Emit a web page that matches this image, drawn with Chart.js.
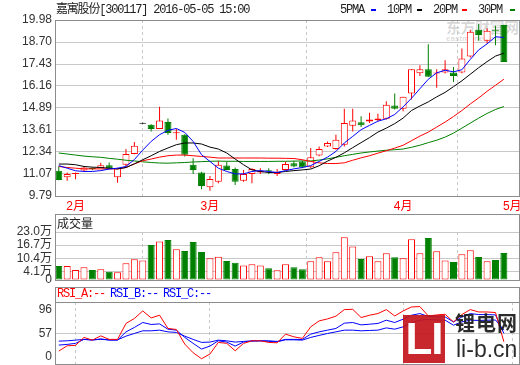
<!DOCTYPE html>
<html>
<head>
<meta charset="utf-8">
<script src="https://cdn.jsdelivr.net/npm/chart.js@4.4.1/dist/chart.umd.min.js"></script>
<style>
html,body{margin:0;padding:0;background:#fff;}
#wrap{position:relative;width:520px;height:365px;overflow:hidden;}
#wrap canvas{position:absolute;left:0;top:0;}
.txt{position:absolute;white-space:nowrap;font-family:"Liberation Mono","Noto Sans CJK SC",monospace;font-size:12px;line-height:12px;letter-spacing:-1.2px;color:#222;}
.dash{position:absolute;top:9px;width:5px;height:2px;}
#wm{position:absolute;left:446px;top:19px;color:rgba(0,0,0,0.16);font-family:"Noto Sans CJK SC",sans-serif;font-weight:bold;font-size:15px;line-height:16px;letter-spacing:-0.5px;white-space:nowrap;}
#wm small{display:block;font-family:"Liberation Sans",sans-serif;font-size:8px;line-height:8px;letter-spacing:0;font-weight:bold;}
#logo{position:absolute;left:403px;top:315px;width:42px;height:48px;background:#c4161c;opacity:0.92;color:#fff;font-family:"Liberation Sans",sans-serif;font-weight:bold;font-size:44px;line-height:48px;text-align:center;letter-spacing:-1px;}
#logoTxt{position:absolute;left:455px;top:311px;color:#1a1a1a;opacity:0.92;font-family:"Noto Sans CJK SC",sans-serif;font-weight:bold;font-size:20px;line-height:24px;letter-spacing:1px;white-space:nowrap;}
#logoUrl{position:absolute;left:456px;top:335px;color:#1a1a1a;opacity:0.92;font-family:"Liberation Sans",sans-serif;font-size:23px;line-height:28px;white-space:nowrap;}
</style>
</head>
<body>
<div id="wrap">
  <div id="wm">东方财富网<small>eastmoney.com</small></div>
  <canvas id="mainChart" width="520" height="365"></canvas>
  <canvas id="volChart" width="520" height="365"></canvas>
  <canvas id="rsiChart" width="520" height="365"></canvas>

  <div class="txt" style="left:56px;top:4px;">嘉寓股份[300117] 2016-05-05 15:00</div>
  <div class="txt" style="left:340px;top:4px;">5PMA</div><div class="dash" style="left:371px;background:#0000ff;"></div>
  <div class="txt" style="left:387px;top:4px;">10PM</div><div class="dash" style="left:417px;background:#000;"></div>
  <div class="txt" style="left:433px;top:4px;">20PM</div><div class="dash" style="left:462px;background:#ff0000;"></div>
  <div class="txt" style="left:478px;top:4px;">30PM</div><div class="dash" style="left:510px;background:#008000;"></div>

  <div class="txt" style="left:57px;top:217px;letter-spacing:0;font-family:'Noto Sans CJK SC',sans-serif;">成交量</div>

  <div class="txt" style="left:57px;top:288px;color:#ff0000;">RSI_A:--</div>
  <div class="txt" style="left:110px;top:288px;color:#0000ff;">RSI_B:--</div>
  <div class="txt" style="left:163px;top:288px;color:#0000ff;">RSI_C:--</div>

  <div id="logo">LI</div>
  <div id="logoTxt">锂电网</div>
  <div id="logoUrl">li-b.cn</div>
</div>

<script>
// daily bars, 2016-01-28 .. 2016-05-05
const opens  = [11.25,10.88,11.07,11.26,11.40,11.40,11.57,10.88,11.60,12.22,
                13.97,13.92,13.67,14.08,13.42,13.34,11.60,11.15,10.30,10.62,
                11.55,11.35,10.68,11.07,11.15,11.28,11.07,11.30,11.69,11.79,
                11.46,12.14,12.66,12.51,12.76,13.86,14.06,14.10,14.18,14.26,
                15.03,14.84,15.73,16.90,17.13,16.88,16.94,16.94,16.94,17.87,
                19.42,18.78,19.42,19.69];
const highs  = [11.51,11.15,11.15,11.50,11.45,11.71,11.73,11.42,12.51,12.92,
                13.97,13.95,14.96,14.27,13.67,13.36,11.98,11.20,10.95,11.83,
                11.79,11.44,11.30,11.40,11.40,11.40,11.35,11.79,11.83,11.83,
                12.57,12.66,12.95,13.34,14.84,14.84,14.41,14.61,14.55,15.28,
                15.73,15.54,17.13,17.36,18.58,17.13,17.65,17.26,18.33,19.42,
                19.75,19.50,19.65,19.71];
const lows   = [10.70,10.68,10.76,11.21,11.28,11.40,11.35,10.56,11.50,12.20,
                13.97,13.53,13.67,13.34,13.05,12.08,11.07,10.18,10.10,10.53,
                11.28,10.43,10.62,10.53,11.07,11.07,10.95,11.26,11.46,11.40,
                11.40,12.09,12.63,12.47,12.66,13.53,13.79,14.02,14.12,14.22,
                14.80,14.70,15.38,16.74,16.70,16.06,16.88,16.39,16.90,17.81,
                18.78,18.64,18.52,17.55];
const closes = [10.72,11.07,11.09,11.44,11.35,11.57,11.40,11.40,12.22,12.70,
                13.97,13.67,14.16,13.44,13.47,12.18,11.30,10.37,10.78,11.60,
                11.30,10.62,11.07,11.35,11.25,11.23,11.20,11.64,11.50,11.44,
                12.04,12.51,12.86,13.05,14.02,14.16,13.88,14.22,14.27,15.07,
                14.84,15.54,17.13,17.13,16.70,16.94,17.13,16.74,17.75,19.30,
                19.11,19.36,19.36,17.55];

const ma5  = [11.55,11.40,11.25,11.21,11.21,11.26,11.35,11.40,11.50,11.90,
              12.45,12.95,13.34,13.59,13.70,13.47,12.95,12.18,11.79,11.40,
              11.21,11.07,11.07,11.21,11.26,11.21,11.15,11.26,11.36,11.44,
              11.55,11.79,12.04,12.37,12.86,13.24,13.63,13.88,14.12,14.26,
              14.51,14.95,15.45,16.00,16.55,16.92,17.07,16.98,17.10,17.70,
              18.25,18.60,19.01,18.97];
const ma10 = [11.64,11.64,11.60,11.50,11.46,11.44,11.40,11.36,11.44,11.65,
              11.89,12.12,12.37,12.57,12.76,12.86,12.86,12.80,12.62,12.51,
              12.28,11.93,11.60,11.30,11.21,11.15,11.15,11.21,11.26,11.30,
              11.35,11.54,11.81,12.03,12.29,12.59,12.88,13.17,13.49,13.72,
              13.98,14.30,14.74,15.00,15.24,15.53,15.79,16.12,16.46,16.84,
              17.22,17.57,17.89,18.06];
const ma20 = [11.50,11.44,11.40,11.36,11.36,11.36,11.36,11.36,11.44,11.65,
              11.83,11.93,12.04,12.12,12.16,12.16,12.12,12.08,12.04,11.99,
              11.99,11.99,11.99,11.99,11.99,11.98,11.98,11.97,11.96,11.89,
              11.79,11.71,11.67,11.67,11.71,11.86,12.00,12.12,12.27,12.41,
              12.56,12.73,12.99,13.26,13.49,13.78,14.07,14.39,14.74,15.12,
              15.47,15.85,16.20,16.55];
const ma30 = [12.28,12.22,12.16,12.10,12.06,12.03,11.97,11.92,11.86,11.82,
              11.77,11.73,11.70,11.69,11.71,11.73,11.76,11.78,11.80,11.81,
              11.80,11.80,11.79,11.79,11.79,11.79,11.80,11.80,11.81,11.82,
              11.82,11.87,11.94,12.03,12.12,12.20,12.28,12.34,12.39,12.44,
              12.47,12.51,12.61,12.73,12.88,13.02,13.20,13.43,13.72,14.01,
              14.30,14.57,14.80,14.97];

// volume in 万 shares
const volumes = [6.7,6.7,4.8,6.1,4.8,5.1,4.0,3.7,8.0,9.9,
                 9.4,16.8,18.5,19.2,14.7,13.9,18.2,13.4,10.4,11.2,
                 9.1,8.3,7.0,7.5,7.0,5.6,4.7,7.5,6.1,5.1,
                 9.0,10.9,9.0,13.3,20.5,16.0,10.1,11.4,9.0,12.8,
                 10.9,10.4,19.5,12.8,20.1,13.8,9.4,8.6,12.3,14.2,
                 11.0,9.0,9.6,12.9];

const rsiA = [28.5,37.2,37.8,50.8,46.4,53.4,47.6,47.6,73.6,81.7,
              94.1,82.7,87.1,65.5,63.8,39.9,25.8,16.0,23.7,42.7,
              41.1,29.0,41.1,45.3,45.3,42.7,42.0,56.2,51.8,49.2,
              68.1,77.8,81.1,85.5,96.3,96.8,83.3,87.1,89.8,96.3,
              85.9,94.1,100.6,101.2,85.9,87.6,88.7,76.2,88.2,96.3,
              92.4,92.4,91.5,43.7];
const rsiB = [38.3,39.4,41.1,47.6,46.4,48.5,46.4,46.4,59.9,67.1,
              75.2,72.0,72.9,64.3,62.7,50.8,41.1,31.8,36.7,45.3,
              43.2,36.7,43.2,44.8,45.3,45.3,44.3,47.6,47.6,47.6,
              56.2,59.9,62.7,65.5,74.1,75.2,71.3,72.4,73.6,79.0,
              75.2,80.6,87.1,89.8,85.0,84.3,84.3,76.2,84.3,89.8,
              88.2,88.2,87.6,57.3];
const rsiC = [44.8,45.3,46.4,47.6,46.9,47.6,46.9,46.9,52.9,57.3,
              61.6,61.6,62.7,59.9,59.0,52.9,47.6,42.7,43.2,46.4,
              45.3,43.2,44.3,45.3,45.3,44.3,43.7,46.9,46.9,46.4,
              50.8,54.1,57.3,59.9,62.7,62.7,61.6,62.2,62.7,66.4,
              64.3,68.1,74.6,79.0,80.1,79.4,79.0,70.8,76.2,79.0,
              78.6,79.0,79.3,62.7];

// axis ticks
const monthIdx    = [2, 18, 41, 54];
const monthLabels = ["2月", "3月", "4月", "5月"];
const priceTicks  = [9.79, 11.07, 12.34, 13.61, 14.89, 16.16, 17.43, 18.70, 19.98];
const volTicks    = [0, 4.1, 10.4, 16.7, 23.0];
const rsiTicks    = [20, 57, 96];
const rsiTickLabels = ["0", "57", "96"];

const X_MIN = -0.45, X_MAX = 54.8;
const RED = "#ff0000", GREEN = "#008000", GRID = "#c8c8c8";
const LABEL_FONT = {family: "'Liberation Sans','Noto Sans CJK SC',sans-serif", size: 12};

const isUp = i => closes[i] > opens[i];
const isDown = i => closes[i] < opens[i];
const candleColor = i => isUp(i) ? RED : (isDown(i) ? GREEN : "#000000");
const volUp = i => closes[i] > opens[i] || (closes[i] === opens[i] && (i === 0 || closes[i] >= closes[i-1]));

// draws the gray box round each panel
const framePlugin = {
    id: "frame",
    afterDraw(chart, args, opts) {
        const {ctx, chartArea: a} = chart;
        const top = opts.top != null ? opts.top : a.top;
        ctx.save();
        ctx.strokeStyle = "#8c8c8c";
        ctx.lineWidth = 1;
        ctx.strokeRect(Math.round(a.left) + 0.5, Math.round(top) + 0.5, Math.round(a.right - a.left), Math.round(a.bottom - top));
        if (opts.sep) {
            ctx.beginPath();
            ctx.moveTo(a.left, Math.round(a.top) + 0.5);
            ctx.lineTo(a.right, Math.round(a.top) + 0.5);
            ctx.stroke();
        }
        ctx.restore();
    }
};

function xAxis(showLabels) {
    return {
        type: "linear", min: X_MIN, max: X_MAX, offset: false,
        afterBuildTicks: s => { s.ticks = monthIdx.map(v => ({value: v})); },
        afterFit: s => { s.height = showLabels ? 16 : 0; s.paddingLeft = 0; s.paddingRight = 0; },
        grid: {color: GRID, drawTicks: false},
        border: {display: false, dash: [3, 3]},
        ticks: {display: showLabels, color: RED, padding: 3, autoSkip: false, maxRotation: 0,
                font: LABEL_FONT, callback: (v, i) => monthLabels[i]}
    };
}

function yAxis(min, max, ticks, fmt, gridColor) {
    return {
        min: min, max: max,
        afterBuildTicks: s => { s.ticks = ticks.map(v => ({value: v})); },
        afterFit: s => { s.width = 55; s.paddingTop = 0; s.paddingBottom = 0; },
        grid: {color: gridColor || GRID, drawTicks: false},
        border: {display: false},
        ticks: {padding: 3, color: "#333", autoSkip: false, font: LABEL_FONT, callback: fmt}
    };
}

const common = {
    responsive: false,
    animation: false,
    events: [],
    plugins: {legend: {display: false}, tooltip: {enabled: false}}
};

function maLine(data, color) {
    return {type: "line", data: data.map((v, i) => ({x: i, y: v})), borderColor: color,
            borderWidth: 1, pointRadius: 0, tension: 0, order: 0};
}

// price panel
new Chart(document.getElementById("mainChart"), {
    type: "bar",
    data: {datasets: [
        maLine(ma5, "#0000ff"),
        maLine(ma10, "#000000"),
        maLine(ma20, RED),
        maLine(ma30, GREEN),
        {
            data: closes.map((c, i) => ({x: i, y: [Math.min(opens[i], c), Math.max(opens[i], c)]})),
            backgroundColor: closes.map((c, i) => isUp(i) ? "#ffffff" : candleColor(i)),
            borderColor: closes.map((c, i) => candleColor(i)),
            borderWidth: 1, borderSkipped: false, barThickness: 7, minBarLength: 1,
            grouped: false, inflateAmount: 0, order: 1
        },
        {
            data: highs.map((h, i) => ({x: i, y: [lows[i], h]})),
            backgroundColor: highs.map((h, i) => candleColor(i)),
            borderWidth: 0, barThickness: 1, minBarLength: 1,
            grouped: false, inflateAmount: 0, order: 2
        }
    ]},
    options: Object.assign({}, common, {
        layout: {padding: {top: 20, right: 1, left: 0, bottom: 153}},
        scales: {
            x: xAxis(true),
            y: yAxis(priceTicks[0], priceTicks[priceTicks.length - 1], priceTicks, v => v.toFixed(2))
        },
        plugins: Object.assign({}, common.plugins, {frame: {}})
    }),
    plugins: [framePlugin]
});

// volume panel
new Chart(document.getElementById("volChart"), {
    type: "bar",
    data: {datasets: [{
        data: volumes.map((v, i) => ({x: i, y: v})),
        backgroundColor: volumes.map((v, i) => volUp(i) ? "#ffffff" : GREEN),
        borderColor: volumes.map((v, i) => volUp(i) ? RED : GREEN),
        borderWidth: 1, borderSkipped: false, barThickness: 7, grouped: false, inflateAmount: 0
    }]},
    options: Object.assign({}, common, {
        layout: {padding: {top: 232, right: 1, left: 0, bottom: 85}},
        scales: {
            x: xAxis(false),
            y: yAxis(0, 23.0, volTicks, v => v === 0 ? "0" : v.toFixed(1) + "万")
        },
        plugins: Object.assign({}, common.plugins, {frame: {top: 214}})
    }),
    plugins: [framePlugin]
});

// RSI panel
new Chart(document.getElementById("rsiChart"), {
    type: "line",
    data: {datasets: [
        {data: rsiA.map((v, i) => ({x: i, y: v})), borderColor: RED, borderWidth: 1, pointRadius: 0},
        {data: rsiB.map((v, i) => ({x: i, y: v})), borderColor: "#0000ff", borderWidth: 1, pointRadius: 0},
        {data: rsiC.map((v, i) => ({x: i, y: v})), borderColor: "#0000ff", borderWidth: 1, pointRadius: 0}
    ]},
    options: Object.assign({}, common, {
        layout: {padding: {top: 302, right: 1, left: 0, bottom: 1}},
        scales: {
            x: xAxis(false),
            y: yAxis(7.4, 108.7, rsiTicks, (v, i) => rsiTickLabels[i],
                     ctx => ctx.tick && ctx.tick.value === 57 ? GRID : "rgba(0,0,0,0)")
        },
        plugins: Object.assign({}, common.plugins, {frame: {top: 287, sep: true}})
    }),
    plugins: [framePlugin]
});
</script>
</body>
</html>
